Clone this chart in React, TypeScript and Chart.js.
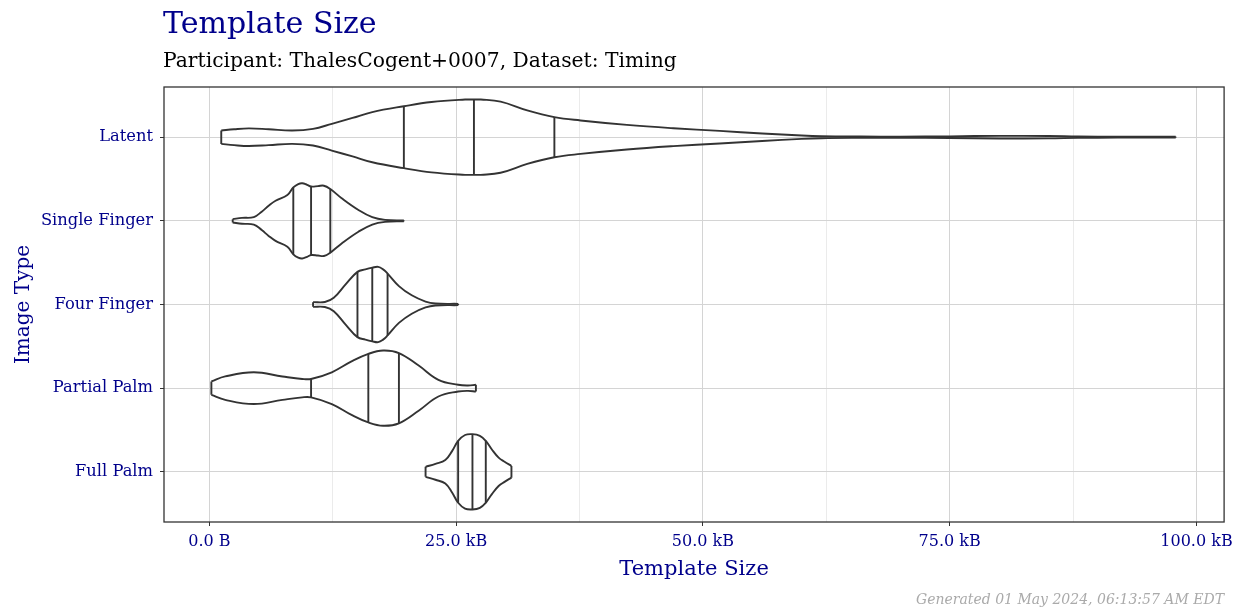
import React, { useEffect, useRef } from "react";
import { Chart, registerables } from "chart.js";

Chart.register(...registerables);

// Categories (top to bottom) and their positions on the value axis
const categories = ["Latent", "Single Finger", "Four Finger", "Partial Palm", "Full Palm"];
const categoryPositions = [5, 4, 3, 2, 1];

// X axis ticks
const xMajorTicks = [0, 25, 50, 75, 100];
const xMajorLabels = ["0.0 B", "25.0 kB", "50.0 kB", "75.0 kB", "100.0 kB"];
const xMinorTicks = [12.5, 37.5, 62.5, 87.5];

// Violin profiles: template size (kB) and density half-width (category units)
const latentSize = [1.2, 2.5, 4.0, 6.0, 8.4, 10.5, 12.4, 14.5, 16.5, 19.7, 22.5, 25.9, 26.8, 27.5, 29.5, 32.2, 34.95, 37.6, 42.3, 47.0, 51.7, 56, 60, 62, 66, 70, 75, 80, 85, 88, 92, 97.9];
const latentWidth = [0.08, 0.095, 0.105, 0.095, 0.08, 0.1, 0.16, 0.23, 0.3, 0.37, 0.42, 0.45, 0.45, 0.45, 0.425, 0.32, 0.24, 0.2, 0.147, 0.107, 0.075, 0.045, 0.02, 0.012, 0.008, 0.007, 0.01, 0.016, 0.014, 0.008, 0.005, 0.005];
const latentQuartiles = [19.7, 26.8, 34.95];

const singleSize = [2.36, 3.3, 4.5, 5.3, 6.0, 6.7, 7.9, 8.5, 9.0, 9.4, 9.9, 10.3, 11.0, 11.6, 12.25, 13.4, 15.1, 16.5, 17.8, 19.7];
const singleWidth = [0.02, 0.035, 0.045, 0.11, 0.18, 0.24, 0.31, 0.4, 0.44, 0.45, 0.43, 0.41, 0.415, 0.42, 0.38, 0.27, 0.13, 0.044, 0.012, 0.005];
const singleQuartiles = [8.5, 10.3, 12.25];

const fourSize = [10.5, 11.7, 12.6, 13.8, 15.0, 15.8, 16.5, 17.1, 17.6, 18.05, 19.2, 20.5, 21.9, 22.9, 25.2];
const fourWidth = [0.028, 0.03, 0.08, 0.24, 0.39, 0.42, 0.44, 0.45, 0.42, 0.37, 0.22, 0.11, 0.035, 0.012, 0.008];
const fourQuartiles = [15.0, 16.5, 18.05];

const partialSize = [0.2, 1.6, 4.5, 7.4, 9.4, 10.3, 12.4, 14.4, 16.1, 17.6, 19.2, 21.2, 23.2, 25.2, 26.2, 27.0];
const partialWidth = [0.08, 0.14, 0.19, 0.14, 0.11, 0.11, 0.19, 0.32, 0.41, 0.45, 0.42, 0.27, 0.1, 0.04, 0.032, 0.04];
const partialQuartiles = [10.3, 16.1, 19.2];

const fullSize = [21.9, 22.9, 23.9, 24.6, 25.2, 25.9, 26.65, 27.4, 28.0, 28.6, 29.3, 29.9, 30.6];
const fullWidth = [0.06, 0.095, 0.14, 0.25, 0.37, 0.44, 0.45, 0.43, 0.37, 0.27, 0.17, 0.12, 0.07];
const fullQuartiles = [25.2, 26.65, 28.0];

const BLUE = "#00008B";
const INK = "#333333";
const FONT = "'DejaVu Serif', serif";

function widthAt(xs: number[], ws: number[], q: number): number {
  for (let i = 0; i < xs.length - 1; i++) {
    if (q >= xs[i] && q <= xs[i + 1]) {
      const t = (q - xs[i]) / (xs[i + 1] - xs[i]);
      return ws[i] + t * (ws[i + 1] - ws[i]);
    }
  }
  return 0;
}

const violins = [
  { pos: categoryPositions[0], size: latentSize, width: latentWidth, q: latentQuartiles },
  { pos: categoryPositions[1], size: singleSize, width: singleWidth, q: singleQuartiles },
  { pos: categoryPositions[2], size: fourSize, width: fourWidth, q: fourQuartiles },
  { pos: categoryPositions[3], size: partialSize, width: partialWidth, q: partialQuartiles },
  { pos: categoryPositions[4], size: fullSize, width: fullWidth, q: fullQuartiles },
];

function buildDatasets() {
  const common = {
    showLine: true,
    pointRadius: 0,
    pointHoverRadius: 0,
    borderColor: INK,
    borderWidth: 1.9,
    fill: false,
    spanGaps: false,
  };
  const ds: any[] = [];
  violins.forEach((v) => {
    ds.push({
      ...common,
      tension: 0.4,
      data: v.size.map((x, i) => ({ x, y: v.pos + v.width[i] })),
    });
    ds.push({
      ...common,
      tension: 0.4,
      data: v.size.map((x, i) => ({ x, y: v.pos - v.width[i] })),
    });
    const segs: any[] = [];
    const n = v.size.length;
    const ends = [
      [v.size[0], v.width[0]],
      [v.size[n - 1], v.width[n - 1]],
    ];
    ends.forEach(([x, w]) => {
      segs.push({ x, y: v.pos - w }, { x, y: v.pos + w }, { x, y: null });
    });
    v.q.forEach((q) => {
      const w = widthAt(v.size, v.width, q);
      segs.push({ x: q, y: v.pos - w }, { x: q, y: v.pos + w }, { x: q, y: null });
    });
    ds.push({ ...common, tension: 0, data: segs });
  });
  return ds;
}

const decorPlugin = {
  id: "decor",
  afterDraw(chart: any) {
    const ctx = chart.ctx;
    const a = chart.chartArea;
    ctx.save();
    ctx.strokeStyle = INK;
    ctx.lineWidth = 1.3;
    ctx.strokeRect(a.left, a.top, a.right - a.left, a.bottom - a.top);

    ctx.textAlign = "left";
    ctx.textBaseline = "alphabetic";
    ctx.fillStyle = BLUE;
    ctx.font = `30px ${FONT}`;
    ctx.fillText("Template Size", 163, 33);
    ctx.fillStyle = "#000";
    ctx.font = `20.3px ${FONT}`;
    ctx.fillText("Participant: ThalesCogent+0007, Dataset: Timing", 163, 67);

    ctx.fillStyle = BLUE;
    ctx.font = `21px ${FONT}`;
    ctx.textAlign = "center";
    ctx.fillText("Template Size", (a.left + a.right) / 2, 575);

    ctx.save();
    ctx.translate(29, (a.top + a.bottom) / 2);
    ctx.rotate(-Math.PI / 2);
    ctx.font = `20px ${FONT}`;
    ctx.fillText("Image Type", 0, 0);
    ctx.restore();

    ctx.fillStyle = "#aaaaaa";
    ctx.font = `italic 14px ${FONT}`;
    ctx.textAlign = "right";
    ctx.fillText("Generated 01 May 2024, 06:13:57 AM EDT", 1224, 604);
    ctx.restore();
  },
};

export default function App() {
  const ref = useRef<HTMLCanvasElement | null>(null);
  useEffect(() => {
    document.body.style.margin = "0";
    const canvas = ref.current!;
    const allX = [...xMajorTicks, ...xMinorTicks].sort((p, q) => p - q);
    const chart = new Chart(canvas, {
      type: "scatter",
      data: { datasets: buildDatasets() },
      plugins: [decorPlugin],
      options: {
        animation: false,
        responsive: false,
        devicePixelRatio: 1,
        layout: { padding: { top: 87, right: 14, left: 0, bottom: 0 } },
        plugins: { legend: { display: false }, tooltip: { enabled: false }, title: { display: false } },
        events: [],
        scales: {
          x: {
            type: "linear",
            min: -4.6,
            max: 102.8,
            border: { display: false },
            afterBuildTicks: (s: any) => {
              s.ticks = allX.map((v) => ({ value: v }));
            },
            afterFit: (s: any) => {
              s.height = 89;
            },
            grid: {
              color: (c: any) => (xMajorTicks.includes(c.tick?.value) ? "#d4d4d4" : "#ebebeb"),
              tickColor: (c: any) => (xMajorTicks.includes(c.tick?.value) ? INK : "rgba(0,0,0,0)"),
              tickLength: 4,
              lineWidth: 1,
            },
            ticks: {
              autoSkip: false,
              maxRotation: 0,
              padding: 6,
              color: BLUE,
              font: { family: FONT, size: 16 },
              callback: (v: any) => {
                const i = xMajorTicks.indexOf(Number(v));
                return i >= 0 ? xMajorLabels[i] : "";
              },
            },
          },
          y: {
            type: "linear",
            min: 0.4,
            max: 5.6,
            border: { display: false },
            afterBuildTicks: (s: any) => {
              s.ticks = [...categoryPositions].sort((p, q) => p - q).map((v) => ({ value: v }));
            },
            afterFit: (s: any) => {
              s.width = 164;
            },
            grid: { color: "#d4d4d4", tickColor: INK, tickLength: 4, lineWidth: 1 },
            ticks: {
              autoSkip: false,
              padding: 7,
              color: BLUE,
              font: { family: FONT, size: 16.3 },
              callback: (v: any) => {
                const i = categoryPositions.indexOf(Number(v));
                return i >= 0 ? categories[i] : "";
              },
            },
          },
        },
      } as any,
    });
    return () => chart.destroy();
  }, []);
  return (
    <div style={{ width: 1239, height: 611 }}>
      <canvas ref={ref} width={1239} height={611} style={{ display: "block" }} />
    </div>
  );
}
